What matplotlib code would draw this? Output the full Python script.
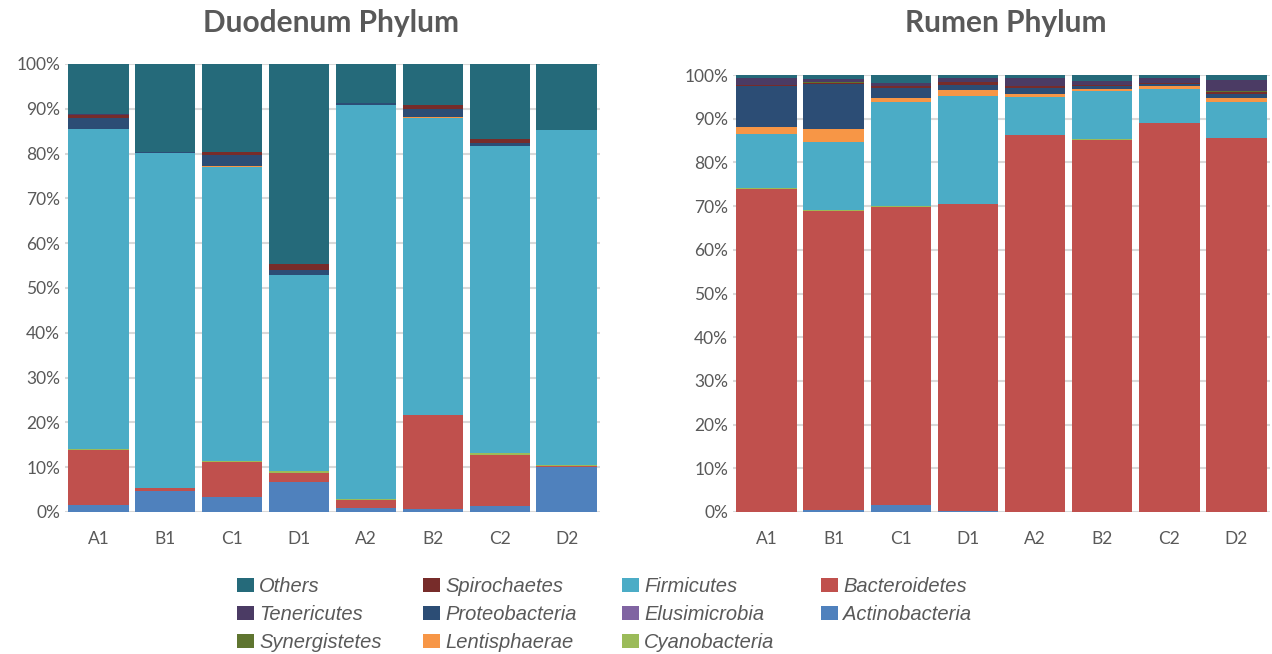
import matplotlib
matplotlib.use("Agg")
import matplotlib.pyplot as plt
from matplotlib.patches import Rectangle
import numpy as np

samples = ["A1", "B1", "C1", "D1", "A2", "B2", "C2", "D2"]

# phylum order from bottom of the stack to the top
phyla = ["Actinobacteria", "Bacteroidetes", "Cyanobacteria", "Elusimicrobia", "Firmicutes",
         "Lentisphaerae", "Proteobacteria", "Spirochaetes", "Synergistetes", "Tenericutes", "Others"]
colors = ["#4F81BD", "#C0504D", "#9BBB59", "#8064A2", "#4BACC6",
          "#F79646", "#2C4D75", "#772C2A", "#5F7530", "#4B3B64", "#256A7A"]

# relative abundance (%) per sample, duodenum
duo_actinobacteria = [1.5, 4.75, 3.3, 6.8, 1.0, 0.6, 1.3, 10.0]
duo_bacteroidetes = [12.4, 0.5, 7.9, 1.9, 1.7, 21.0, 11.5, 0.2]
duo_cyanobacteria = [0.2, 0.0, 0.1, 0.4, 0.2, 0.1, 0.3, 0.4]
duo_elusimicrobia = [0.0, 0.0, 0.0, 0.0, 0.0, 0.0, 0.0, 0.0]
duo_firmicutes = [71.4, 74.9, 65.8, 43.8, 88.0, 66.2, 68.5, 74.6]
duo_lentisphaerae = [0.1, 0.0, 0.2, 0.0, 0.0, 0.2, 0.0, 0.0]
duo_proteobacteria = [2.3, 0.1, 2.4, 1.2, 0.3, 1.9, 0.8, 0.0]
duo_spirochaetes = [0.8, 0.0, 0.7, 1.3, 0.2, 0.9, 0.9, 0.0]
duo_synergistetes = [0.0, 0.0, 0.0, 0.0, 0.0, 0.0, 0.0, 0.0]
duo_tenericutes = [0.1, 0.0, 0.0, 0.0, 0.0, 0.0, 0.0, 0.0]
duo_others = [11.2, 19.75, 19.6, 44.6, 8.6, 9.1, 16.7, 14.8]

# relative abundance (%) per sample, rumen
rum_actinobacteria = [0.1, 0.5, 1.5, 0.2, 0.0, 0.0, 0.0, 0.0]
rum_bacteroidetes = [73.9, 68.4, 68.3, 70.2, 86.2, 85.2, 89.0, 85.5]
rum_cyanobacteria = [0.2, 0.2, 0.2, 0.0, 0.1, 0.1, 0.1, 0.1]
rum_elusimicrobia = [0.0, 0.0, 0.0, 0.0, 0.0, 0.0, 0.0, 0.0]
rum_firmicutes = [12.4, 15.6, 23.9, 24.9, 8.7, 11.1, 7.8, 8.3]
rum_lentisphaerae = [1.6, 2.9, 0.9, 1.3, 0.6, 0.5, 0.6, 0.8]
rum_proteobacteria = [9.3, 10.4, 2.3, 1.1, 1.5, 0.6, 0.4, 0.9]
rum_spirochaetes = [0.2, 0.1, 0.3, 0.7, 0.3, 0.2, 0.3, 0.6]
rum_synergistetes = [0.0, 0.3, 0.0, 0.0, 0.0, 0.0, 0.0, 0.1]
rum_tenericutes = [1.5, 0.6, 0.8, 0.8, 1.8, 0.9, 1.0, 2.6]
rum_others = [0.8, 1.0, 1.8, 0.8, 0.8, 1.4, 0.8, 1.1]

duodenum = [duo_actinobacteria, duo_bacteroidetes, duo_cyanobacteria, duo_elusimicrobia,
            duo_firmicutes, duo_lentisphaerae, duo_proteobacteria, duo_spirochaetes,
            duo_synergistetes, duo_tenericutes, duo_others]
rumen = [rum_actinobacteria, rum_bacteroidetes, rum_cyanobacteria, rum_elusimicrobia,
         rum_firmicutes, rum_lentisphaerae, rum_proteobacteria, rum_spirochaetes,
         rum_synergistetes, rum_tenericutes, rum_others]

GREY = "#595959"
W, H = 1272, 654
plt.rcParams["font.family"] = ["Lato", "DejaVu Sans"]

fig = plt.figure(figsize=(W / 100, H / 100), dpi=100)
ax_l = fig.add_axes([65 / W, 142 / H, 535 / W, 448 / H])
ax_r = fig.add_axes([733 / W, 142 / H, 537 / W, 437 / H])


def stacked(ax, layers):
    x = np.arange(len(samples))
    base = np.zeros(len(samples))
    for vals, c in zip(layers, colors):
        v = np.array(vals) / 100.0
        ax.bar(x, v, 0.9, bottom=base, color=c, edgecolor="none", zorder=2)
        base += v
    ax.set_xlim(-0.5, len(samples) - 0.5)
    ax.set_ylim(0, 1)
    ticks = np.arange(0, 1.01, 0.1)
    ax.set_yticks(ticks)
    ax.set_yticklabels([f"{int(round(t * 100))}%" for t in ticks])
    ax.set_xticks(x)
    ax.set_xticklabels(samples)
    ax.yaxis.grid(True, color="#D9D9D9", lw=1.5, zorder=0)
    ax.set_axisbelow(True)
    for s in ax.spines.values():
        s.set_visible(False)
    ax.tick_params(length=0, colors=GREY, labelsize=12.5)
    ax.tick_params(axis="x", pad=14)


stacked(ax_l, duodenum)
stacked(ax_r, rumen)

fig.text(331 / W, 1 - 23 / H, "Duodenum Phylum", ha="center", va="center",
         fontsize=21.5, fontweight="bold", color=GREY)
fig.text(1006 / W, 1 - 23 / H, "Rumen Phylum", ha="center", va="center",
         fontsize=21.5, fontweight="bold", color=GREY)

# legend: reversed stack order, filled column by column (3 rows)
col_x = [237, 423, 622, 821]
row_y = [585, 613, 641]
legend_font = {"family": ["Liberation Sans", "DejaVu Sans"], "style": "italic", "size": 14.5}
for i, (name, c) in enumerate(zip(phyla[::-1], colors[::-1])):
    cx, ry = col_x[i // 3], row_y[i % 3]
    fig.patches.append(Rectangle((cx / W, 1 - (ry + 7) / H), 17 / W, 14 / H,
                                 transform=fig.transFigure, facecolor=c, edgecolor="none"))
    fig.text((cx + 22) / W, 1 - (ry + 2) / H, name, ha="left", va="center", color=GREY,
             fontdict=legend_font)

fig.savefig("out.png", dpi=100)
